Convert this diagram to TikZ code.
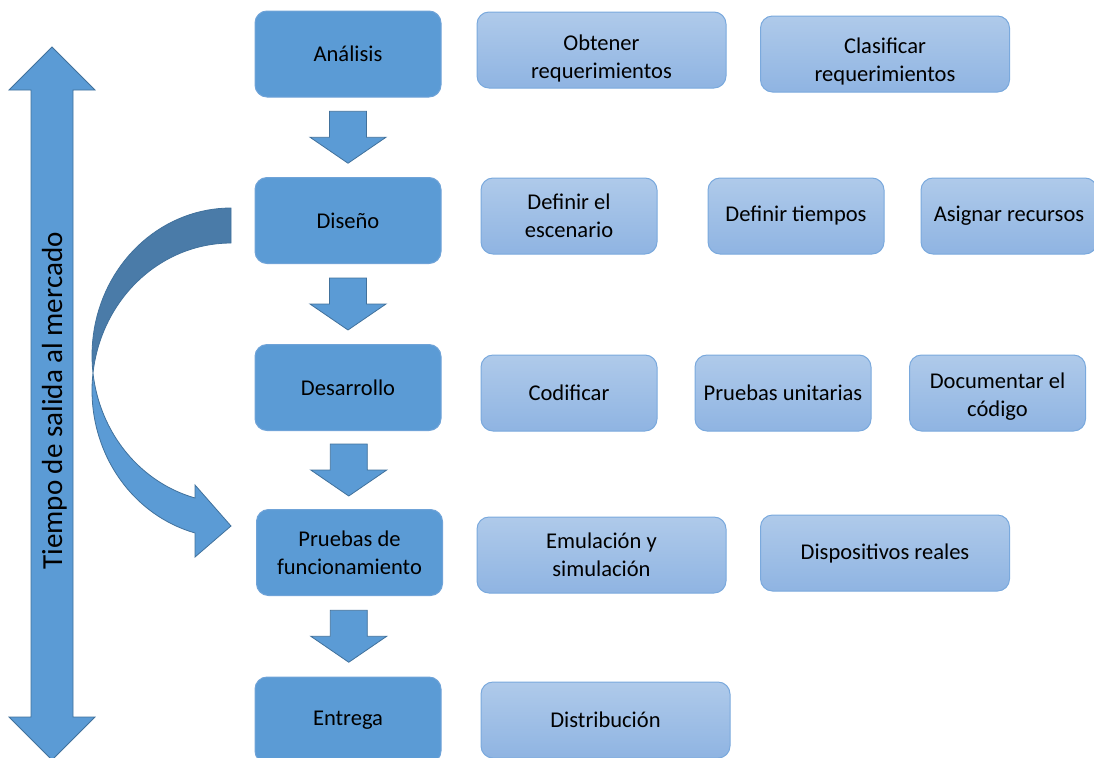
\documentclass[tikz,border=0pt]{standalone}
\usepackage{fontspec}
\setmainfont{Carlito}
\usepackage{tikz}
\usepackage{xcolor}
\definecolor{fasefill}{HTML}{5B9BD5}
\definecolor{faseborde}{HTML}{6FA3D8}
\definecolor{tareaarriba}{HTML}{AFCAEA}
\definecolor{tareaabajo}{HTML}{8FB4E2}
\definecolor{tareaborde}{HTML}{7AA9DD}
\definecolor{flechaborde}{HTML}{41719C}
\definecolor{curvaoscura}{HTML}{4A7BA8}
\usetikzlibrary{calc,positioning}

% strut to push the text of a box a bit lower
\newcommand{\bajatexto}[1]{\rule{0pt}{#1}}

\tikzset{
    fase/.style={draw=faseborde, line width=0.75pt, fill=fasefill, rounded corners=9pt,
        minimum width=139.5pt, minimum height=64.5pt, inner sep=0pt, align=center,
        font=\fontsize{16.9}{21}\selectfont},
    tarea/.style={draw=tareaborde, line width=0.75pt, top color=tareaarriba, bottom color=tareaabajo,
        rounded corners=9pt, minimum width=132pt, minimum height=57pt, inner sep=0pt, align=center,
        font=\fontsize{16.9}{21}\selectfont},
    tareaancha/.style={tarea, minimum width=186.75pt},
    bloque/.style={fill=fasefill, draw=flechaborde, line width=0.6pt, line join=miter}
}

\begin{document}
\begin{tikzpicture}[x=0.75pt, y=-0.75pt]
    \useasboundingbox (0, 0) rectangle (1094, 757);

    % Tiempo de salida al mercado
    \draw[bloque] (52, 47) -- (95, 90) -- (73, 90) -- (73, 717) -- (95, 717) -- (52, 760)
        -- (9, 717) -- (31, 717) -- (31, 90) -- (9, 90) -- cycle;
    \node[rotate=90, anchor=base, font=\fontsize{21.8}{26}\selectfont] (tiempo) at (62, 401) {Tiempo de salida al mercado};

    % Fases
    \node[fase] (analisis) at (348, 54) {Análisis};
    \node[fase] (diseno) at (348, 220.5) {Diseño};
    \node[fase] (desarrollo) at (348, 387.5) {Desarrollo};
    \node[fase] (pruebas) at (349.5, 552.5) {Pruebas de\\funcionamiento};
    \node[fase] (entrega) at (348, 720) {Entrega};

    % Flechas entre fases
    \foreach \a/\b in {analisis/diseno, diseno/desarrollo, desarrollo/pruebas, pruebas/entrega} {
        \coordinate (m) at ($(\a.south)!0.5!(\b.north)$);
        \draw[bloque] ($(m)+(-18.5,-26)$) -- ($(m)+(18.5,-26)$) -- ($(m)+(18.5,0)$) -- ($(m)+(38,0)$)
            -- ($(m)+(0,26)$) -- ($(m)+(-38,0)$) -- ($(m)+(-18.5,0)$) -- cycle;
    }

    % Flecha curva (Diseño -> Pruebas)
    \draw[fill=curvaoscura, draw=flechaborde, line width=0.6pt]
        plot[domain=90:186.8, samples=40] ({231+139*cos(\x)}, {355.5-147.5*sin(\x)})
        -- plot[domain=173.2:90, samples=40] ({231+139*cos(\x)}, {390.5-147.5*sin(\x)}) -- cycle;
    \draw[bloque]
        plot[domain=173.2:255, samples=40] ({231+139*cos(\x)}, {390.5-147.5*sin(\x)})
        -- (195, 557) -- (231, 526) -- (195, 485)
        -- plot[domain=255:186.8, samples=40] ({231+139*cos(\x)}, {355.5-147.5*sin(\x)}) -- cycle;

    % Tareas
    \node[tareaancha] (obtener) at (601.5, 50) {\bajatexto{25pt}Obtener\\requerimientos};
    \node[tareaancha] (clasificar) at (885, 54) {\bajatexto{23.5pt}Clasificar\\requerimientos};

    \node[tarea] (escenario) at (569, 216) {Definir el\\escenario};
    \node[tarea] (tiempos) at (796, 216) {Definir tiempos};
    \node[tarea] (recursos) at (1009, 216) {Asignar recursos};

    \node[tarea] (codificar) at (569, 393) {Codificar};
    \node[tarea] (unitarias) at (783, 393) {Pruebas unitarias};
    \node[tarea] (documentar) at (997.5, 393) {\bajatexto{17.5pt}Documentar el\\código};

    \node[tareaancha] (emulacion) at (601.5, 555) {Emulación y\\simulación};
    \node[tareaancha] (dispositivos) at (885, 553) {Dispositivos reales};

    \node[tareaancha] (distribucion) at (605.5, 720) {Distribución};
\end{tikzpicture}
\end{document}
